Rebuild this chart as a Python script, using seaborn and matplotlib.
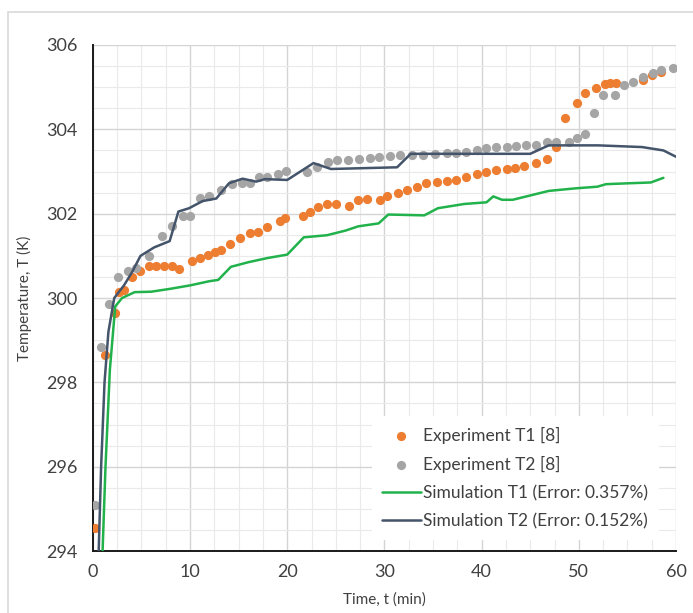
import matplotlib
matplotlib.use("Agg")
import matplotlib.pyplot as plt
from matplotlib.ticker import MultipleLocator
from matplotlib.patches import Rectangle
import seaborn as sns
import pandas as pd

# Experimental readings, sensor T1
exp_t1_time = [0.2, 1.3, 2.3, 2.7, 3.2, 4.0, 4.9, 5.8, 6.5, 7.3, 8.1, 8.9,
               10.2, 11.0, 11.8, 12.6, 13.2, 14.1, 15.1, 16.2, 17.0, 17.9, 19.3, 19.8,
               21.6, 22.3, 23.2, 24.1, 25.0, 26.4, 27.3, 28.2, 29.5, 30.3, 31.4,
               32.3, 33.3, 34.3, 35.4, 36.4, 37.4, 38.4, 39.5, 40.5, 41.5, 42.6,
               43.4, 44.4, 45.6, 46.7, 47.7, 48.6, 49.8, 50.6, 51.8, 52.7, 53.2,
               53.8, 56.6, 57.5, 58.5]
exp_t1_temp = [294.55, 298.65, 299.65, 300.15, 300.2, 300.5, 300.65, 300.75, 300.77, 300.77, 300.75, 300.68,
               300.88, 300.95, 301.02, 301.08, 301.15, 301.28, 301.42, 301.54, 301.56, 301.68, 301.82, 301.9,
               301.95, 302.04, 302.16, 302.22, 302.22, 302.19, 302.32, 302.34, 302.33, 302.41, 302.48,
               302.56, 302.64, 302.72, 302.76, 302.77, 302.8, 302.88, 302.95, 303.0, 303.04, 303.07,
               303.09, 303.12, 303.2, 303.3, 303.59, 304.27, 304.62, 304.87, 304.98, 305.08, 305.1,
               305.1, 305.18, 305.28, 305.36]

# Experimental readings, sensor T2
exp_t2_time = [0.2, 0.8, 1.7, 2.6, 3.6, 4.4, 5.8, 7.1, 8.1, 9.3, 10.0, 11.0, 12.0,
               13.2, 14.3, 15.3, 16.2, 17.1, 17.9, 19.0, 19.9, 22.0, 23.1, 24.2, 25.1,
               26.2, 27.4, 28.5, 29.4, 30.6, 31.6, 32.8, 34.0, 35.2, 36.4, 37.4, 38.4,
               39.5, 40.5, 41.5, 42.6, 43.5, 44.6, 45.6, 46.7, 47.7, 49.0, 49.8, 50.6,
               51.6, 52.5, 53.7, 54.6, 55.6, 56.6, 57.6, 58.5, 59.7]
exp_t2_temp = [295.1, 298.85, 299.85, 300.5, 300.65, 300.72, 301.0, 301.48, 301.7, 301.95, 301.95, 302.38, 302.42,
               302.56, 302.7, 302.72, 302.73, 302.88, 302.88, 302.94, 303.02, 303.0, 303.1, 303.22, 303.27,
               303.28, 303.29, 303.31, 303.34, 303.36, 303.38, 303.39, 303.39, 303.41, 303.43, 303.44, 303.47,
               303.52, 303.55, 303.58, 303.58, 303.6, 303.62, 303.64, 303.7, 303.7, 303.7, 303.79, 303.9,
               304.38, 304.81, 304.81, 305.05, 305.13, 305.25, 305.33, 305.41, 305.45]

# Simulated curves
sim_t1_time = [1.0, 1.3, 1.75, 2.3, 3.0, 4.3, 6.0, 8.0, 10.0, 12.0, 12.9, 14.2, 16.0, 18.0,
               20.0, 21.7, 24.1, 26.0, 27.3, 29.4, 30.4, 34.1, 35.5, 38.2, 40.5, 41.2,
               42.1, 43.2, 46.9, 49.6, 51.9, 52.8, 55.0, 57.4, 58.7]
sim_t1_temp = [294.0, 296.0, 298.3, 299.8, 300.0, 300.14, 300.15, 300.22, 300.3, 300.4, 300.43, 300.74, 300.85, 300.95,
               301.03, 301.44, 301.49, 301.6, 301.7, 301.77, 301.98, 301.96, 302.13, 302.23, 302.27, 302.41,
               302.33, 302.33, 302.54, 302.6, 302.64, 302.7, 302.72, 302.74, 302.85]

sim_t2_time = [0.6, 0.85, 1.2, 1.6, 2.2, 3.2, 4.0, 4.9, 6.3, 7.9, 8.8, 9.9, 11.3, 12.7,
               14.0, 15.4, 16.8, 17.7, 20.0, 22.7, 24.5, 31.3, 32.7, 45.0, 46.9, 52.0,
               56.5, 58.7, 60.0]
sim_t2_temp = [294.0, 296.0, 298.0, 299.2, 300.0, 300.3, 300.6, 301.0, 301.2, 301.35, 302.05, 302.13, 302.3, 302.36,
               302.72, 302.83, 302.76, 302.82, 302.8, 303.2, 303.06, 303.1, 303.42, 303.42, 303.62, 303.62,
               303.58, 303.5, 303.35]

labels = ["Experiment T1 [8]", "Experiment T2 [8]",
          "Simulation T1 (Error: 0.357%)", "Simulation T2 (Error: 0.152%)"]

exp1 = pd.DataFrame({"t": exp_t1_time, "T": exp_t1_temp})
exp2 = pd.DataFrame({"t": exp_t2_time, "T": exp_t2_temp})
sim1 = pd.DataFrame({"t": sim_t1_time, "T": sim_t1_temp})
sim2 = pd.DataFrame({"t": sim_t2_time, "T": sim_t2_temp})

sns.set_theme(style="white")
plt.rcParams["font.family"] = ["Lato", "DejaVu Sans"]

text_color = "#404040"
orange = "#ED7D31"
grey = "#A5A5A5"
green = "#22B24C"
navy = "#44546A"

fig = plt.figure(figsize=(6.93, 6.13), dpi=100)
ax = fig.add_axes([0.134, 0.101, 0.8415, 0.8256])

ax.set_xlim(0, 60)
ax.set_ylim(294, 306)
ax.xaxis.set_major_locator(MultipleLocator(10))
ax.xaxis.set_minor_locator(MultipleLocator(2.5))
ax.yaxis.set_major_locator(MultipleLocator(2))
ax.yaxis.set_minor_locator(MultipleLocator(0.5))
ax.grid(which="major", color="#D4D4D4", linewidth=1.0)
ax.grid(which="minor", color="#EAEAEA", linewidth=0.8)
ax.set_axisbelow(True)

sns.scatterplot(data=exp1, x="t", y="T", ax=ax, color=orange, s=44,
                linewidth=0, label=labels[0], zorder=3)
sns.scatterplot(data=exp2, x="t", y="T", ax=ax, color=grey, s=44,
                linewidth=0, label=labels[1], zorder=3)
sns.lineplot(data=sim1, x="t", y="T", ax=ax, color=green, linewidth=1.8,
             sort=False, estimator=None, label=labels[2], zorder=4)
sns.lineplot(data=sim2, x="t", y="T", ax=ax, color=navy, linewidth=1.8,
             sort=False, estimator=None, label=labels[3], zorder=4)

for side in ["top", "right"]:
    ax.spines[side].set_visible(False)
for side in ["left", "bottom"]:
    ax.spines[side].set_color("#1a1a1a")
    ax.spines[side].set_linewidth(1.4)

ax.tick_params(axis="x", which="major", direction="inout", length=6, width=1,
               color="#1a1a1a", labelsize=13, labelcolor=text_color, pad=6)
ax.tick_params(axis="y", which="major", direction="out", length=4, width=1,
               color="#1a1a1a", labelsize=13, labelcolor=text_color, pad=7)
ax.tick_params(which="minor", length=0)

ax.set_xlabel("Time, t (min)", fontsize=11, color=text_color, labelpad=9)
ax.set_ylabel("Temperature, T (K)", fontsize=11, color=text_color, labelpad=10)

leg = ax.legend(loc="lower right", bbox_to_anchor=(0.985, 0.005), fontsize=12.5,
                frameon=True, facecolor="white", edgecolor="none", framealpha=1,
                handlelength=2.2, handletextpad=0.15, labelspacing=0.7,
                borderpad=0.6, markerscale=1.0)
for txt in leg.get_texts():
    txt.set_color(text_color)

# light outer border of the chart area
fig.patches.append(Rectangle((8 / 693, -0.05), 1.1, 1 - 12 / 613 + 0.05,
                             transform=fig.transFigure, fill=False,
                             edgecolor="#D9D9D9", linewidth=1.2))

fig.savefig("out.png", dpi=100)
